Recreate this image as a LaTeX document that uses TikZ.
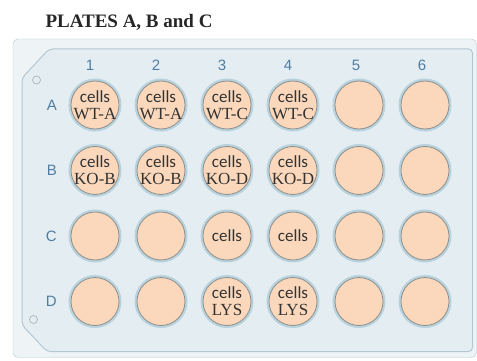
\documentclass[tikz,border=0pt]{standalone}
\usepackage{fontspec}
\setmainfont{Liberation Serif}
\setsansfont{Liberation Sans}
\newfontfamily\cellsfont{Carlito}
\usetikzlibrary{positioning}

\definecolor{plateout}{HTML}{EEF3F6}
\definecolor{platein}{HTML}{E4EDF2}
\definecolor{plateedge}{HTML}{B4C8D2}
\definecolor{wellfill}{HTML}{FBD8BB}
\definecolor{wellline}{HTML}{8F8F8A}
\definecolor{ringblue}{HTML}{B8D2DE}
\definecolor{labelblue}{HTML}{4F7EA2}
\definecolor{holeline}{HTML}{A9B4BC}

\begin{document}
\begin{tikzpicture}[x=1pt,y=-1pt,
  well/.style={circle,draw=wellline,fill=wellfill,line width=0.8pt,minimum size=48pt,
    inner sep=-6pt,outer sep=0pt,align=center,text=black!80,
    font=\fontsize{17}{17}\selectfont,preaction={draw=ringblue,line width=5pt}},
  colnum/.style={inner sep=0pt,text=labelblue,font=\sffamily\fontsize{15}{15}\selectfont},
  rownum/.style={inner sep=0pt,text=labelblue,font=\sffamily\fontsize{15}{15}\selectfont},
  hole/.style={circle,draw=holeline,line width=0.7pt,minimum size=8pt,inner sep=0pt}
]
\useasboundingbox (0,0) rectangle (477,361);

% plate
\draw[draw=plateedge,fill=plateout,rounded corners=5pt] (13,39) rectangle (476.5,357.5);
\draw[draw=plateedge,fill=platein,line width=1pt,rounded corners=4pt]
  (22,78) -- (49,49) -- (472.5,49) -- (472.5,351.5) -- (47,351.5) -- (22,325) -- cycle;
\node[hole] (tophole) at (36.5,80) {};
\node[hole] (bothole) at (33.5,319.5) {};

\node[anchor=base west,text=black!85,font=\bfseries\fontsize{19}{20}\selectfont] (title) at (42,28) {PLATES A, B and C};

% row A
\node[well] (a1) at (95,105) {{\cellsfont cells}\\WT-A};
\node[well,right=18pt of a1] (a2) {{\cellsfont cells}\\WT-A};
\node[well,right=18pt of a2] (a3) {{\cellsfont cells}\\WT-C};
\node[well,right=18pt of a3] (a4) {{\cellsfont cells}\\WT-C};
\node[well,right=18pt of a4] (a5) {};
\node[well,right=18pt of a5] (a6) {};

% row B
\node[well,below=17.5pt of a1] (b1) {{\cellsfont cells}\\KO-B};
\node[well,right=18pt of b1] (b2) {{\cellsfont cells}\\KO-B};
\node[well,right=18pt of b2] (b3) {{\cellsfont cells}\\KO-D};
\node[well,right=18pt of b3] (b4) {{\cellsfont cells}\\KO-D};
\node[well,right=18pt of b4] (b5) {};
\node[well,right=18pt of b5] (b6) {};

% row C
\node[well,below=17.5pt of b1] (c1) {};
\node[well,right=18pt of c1] (c2) {};
\node[well,right=18pt of c2] (c3) {\cellsfont cells};
\node[well,right=18pt of c3] (c4) {\cellsfont cells};
\node[well,right=18pt of c4] (c5) {};
\node[well,right=18pt of c5] (c6) {};

% row D
\node[well,below=17.5pt of c1] (d1) {};
\node[well,right=18pt of d1] (d2) {};
\node[well,right=18pt of d2] (d3) {{\cellsfont cells}\\LYS};
\node[well,right=18pt of d3] (d4) {{\cellsfont cells}\\LYS};
\node[well,right=18pt of d4] (d5) {};
\node[well,right=18pt of d5] (d6) {};

% column numbers
\node[colnum,above=10pt of a1,xshift=-5pt] (n1) {1};
\node[colnum,above=10pt of a2,xshift=-5pt] (n2) {2};
\node[colnum,above=10pt of a3,xshift=-5pt] (n3) {3};
\node[colnum,above=10pt of a4,xshift=-5pt] (n4) {4};
\node[colnum,above=10pt of a5,xshift=-3pt] (n5) {5};
\node[colnum,above=10pt of a6,xshift=-3pt] (n6) {6};

% row letters
\node[rownum,left=14pt of a1] (la) {A};
\node[rownum,left=14pt of b1] (lb) {B};
\node[rownum,left=14pt of c1] (lc) {C};
\node[rownum,left=14pt of d1] (ld) {D};
\end{tikzpicture}
\end{document}
